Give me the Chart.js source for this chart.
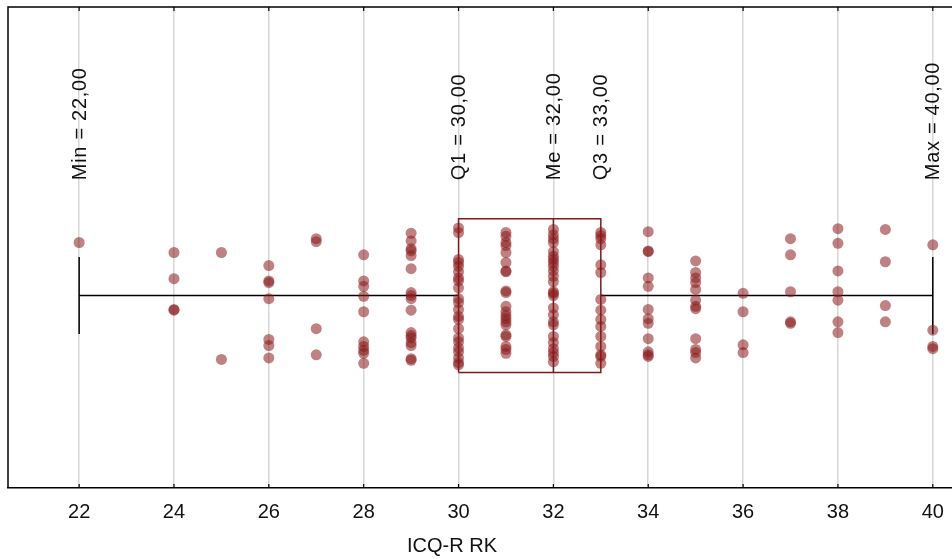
<!DOCTYPE html>
<html>
<head>
<meta charset="utf-8">
<script src="https://cdn.jsdelivr.net/npm/chart.js@4"></script>
<style>
  html, body { margin: 0; padding: 0; background: #fff; overflow: hidden; }
  #wrap { width: 962px; height: 559px; }
</style>
</head>
<body>
<div id="wrap"><canvas id="myChart" width="962" height="559"></canvas></div>
<script>
// scores that occur, and the vertical jitter of each dot at that score
var scores = [22, 24, 25, 26, 27, 28, 29, 30, 31, 32, 33, 34, 35, 36, 37, 38, 39, 40];
var jitter = [
    [0.69],
    [0.56, 0.22, -0.18, -0.19],
    [0.56, -0.83],
    [0.39, 0.19, 0.17, -0.04, -0.57, -0.65, -0.81],
    [0.74, 0.70, -0.43, -0.77],
    [0.53, 0.19, 0.12, -0.01, -0.21, -0.60, -0.66, -0.71, -0.75, -0.88],
    [0.81, 0.71, 0.61, 0.58, 0.52, 0.35, 0.04, 0, -0.04, -0.19, -0.48, -0.52, -0.55, -0.61, -0.65, -0.82, -0.84],
    [0.88, 0.82, 0.47, 0.43, 0.38, 0.31, 0.23, 0.19, 0.10, -0.04, -0.09, -0.18, -0.27, -0.31, -0.43, -0.55, -0.60, -0.68, -0.73, -0.81, -0.87, -0.90],
    [0.82, 0.77, 0.69, 0.65, 0.56, 0.43, 0.32, 0.31, 0.06, 0.04, -0.14, -0.21, -0.26, -0.30, -0.34, -0.38, -0.51, -0.53, -0.66, -0.70, -0.75],
    [0.86, 0.79, 0.74, 0.69, 0.57, 0.51, 0.47, 0.43, 0.38, 0.32, 0.25, 0.18, 0.05, 0.03, 0, -0.16, -0.25, -0.34, -0.38, -0.53, -0.61, -0.69, -0.74, -0.79, -0.86],
    [0.82, 0.78, 0.74, 0.66, 0.40, 0.30, -0.05, -0.19, -0.31, -0.40, -0.53, -0.66, -0.77, -0.79, -0.88],
    [0.83, 0.58, 0.57, 0.23, 0.12, -0.18, -0.30, -0.36, -0.56, -0.73, -0.77, -0.79],
    [0.45, 0.30, 0.23, 0.17, 0.08, -0.06, -0.14, -0.17, -0.56, -0.70, -0.74, -0.81],
    [0.03, -0.21, -0.64, -0.74],
    [0.74, 0.53, 0.05, -0.34, -0.36],
    [0.87, 0.68, 0.32, 0.05, -0.06, -0.34, -0.48],
    [0.86, 0.44, -0.13, -0.34],
    [0.66, -0.45, -0.66, -0.69]
];
var statNames = ['Min', 'Q1', 'Me', 'Q3', 'Max'];
var statValues = [22, 30, 32, 33, 40];
var tickValues = [22, 24, 26, 28, 30, 32, 34, 36, 38, 40];
var axisTitle = 'ICQ-R RK';

var FONT = '"Liberation Sans", Arial, sans-serif';
var BOX = '#7d1a1a';
var TITLE_X = 452, TITLE_Y = 546;

var points = [];
for (var i = 0; i < scores.length; i++) {
    for (var k = 0; k < jitter[i].length; k++) {
        points.push({x: scores[i], y: jitter[i][k]});
    }
}

var mn = statValues[0], q1 = statValues[1], me = statValues[2], q3 = statValues[3], mx = statValues[4];

function seg(data, color) {
    return {
        type: 'line', data: data, borderColor: color, borderWidth: 1.5,
        pointRadius: 0, fill: false, tension: 0, order: 2
    };
}

// frame (left + top), inward ticks, rotated stat labels, axis title
var extras = {
    id: 'extras',
    beforeDatasetsDraw: function(chart) {
        var ctx = chart.ctx, a = chart.chartArea, xs = chart.scales.x;
        ctx.save();
        ctx.strokeStyle = '#000';
        ctx.lineWidth = 1.5;
        ctx.beginPath();
        ctx.moveTo(a.left, a.bottom);
        ctx.lineTo(a.left, a.top);
        ctx.lineTo(a.right, a.top);
        ctx.stroke();
        ctx.lineWidth = 1.2;
        tickValues.forEach(function(v) {
            var x = xs.getPixelForValue(v);
            ctx.beginPath();
            ctx.moveTo(x, a.top); ctx.lineTo(x, a.top + 4);
            ctx.moveTo(x, a.bottom); ctx.lineTo(x, a.bottom - 4);
            ctx.stroke();
        });
        ctx.restore();
    },
    afterDatasetsDraw: function(chart) {
        var ctx = chart.ctx, xs = chart.scales.x, ys = chart.scales.y;
        ctx.save();
        ctx.fillStyle = '#111';
        ctx.font = '20px ' + FONT;
        ctx.letterSpacing = '0.7px';
        ctx.textAlign = 'left';
        ctx.textBaseline = 'middle';
        for (var i = 0; i < statNames.length; i++) {
            var txt = statNames[i] + ' = ' + statValues[i].toFixed(2).replace('.', ',');
            ctx.save();
            ctx.translate(xs.getPixelForValue(statValues[i]) + 1, ys.getPixelForValue(1.5));
            ctx.rotate(-Math.PI / 2);
            ctx.fillText(txt, 0, 0);
            ctx.restore();
        }
        ctx.letterSpacing = '0px';
        ctx.textAlign = 'center';
        ctx.fillText(axisTitle, TITLE_X, TITLE_Y);
        ctx.restore();
    }
};

var ctx = document.getElementById('myChart').getContext('2d');
var chart = new Chart(ctx, {
    type: 'scatter',
    data: {
        datasets: [
            {
                data: points,
                backgroundColor: 'rgba(139, 26, 26, 0.55)',
                borderWidth: 0,
                pointRadius: 5.5,
                pointHoverRadius: 5.5,
                order: 0
            },
            seg([{x: q1, y: -1}, {x: q3, y: -1}, {x: q3, y: 1}, {x: q1, y: 1}, {x: q1, y: -1}], BOX),
            seg([{x: me, y: -1}, {x: me, y: 1}], BOX),
            seg([{x: mn, y: 0}, {x: q1, y: 0}], '#000'),
            seg([{x: q3, y: 0}, {x: mx, y: 0}], '#000'),
            seg([{x: mn, y: -0.5}, {x: mn, y: 0.5}], '#000'),
            seg([{x: mx, y: -0.5}, {x: mx, y: 0.5}], '#000')
        ]
    },
    options: {
        responsive: false,
        animation: false,
        events: [],
        layout: { padding: { left: 8, top: 7, right: 0, bottom: 23 } },
        plugins: { legend: { display: false }, tooltip: { enabled: false } },
        scales: {
            x: {
                type: 'linear',
                min: 20.5,
                max: 40.5,
                afterBuildTicks: function(scale) {
                    scale.ticks = tickValues.map(function(v) { return {value: v}; });
                },
                grid: { color: '#d6d6d6', lineWidth: 1.5, drawTicks: false },
                border: { color: '#000', width: 1.5 },
                ticks: {
                    color: '#111', padding: 12,
                    font: { family: FONT, size: 20 },
                    maxRotation: 0, autoSkip: false
                }
            },
            y: {
                display: false,
                min: -2.5,
                max: 3.75
            }
        }
    },
    plugins: [extras]
});
</script>
</body>
</html>
